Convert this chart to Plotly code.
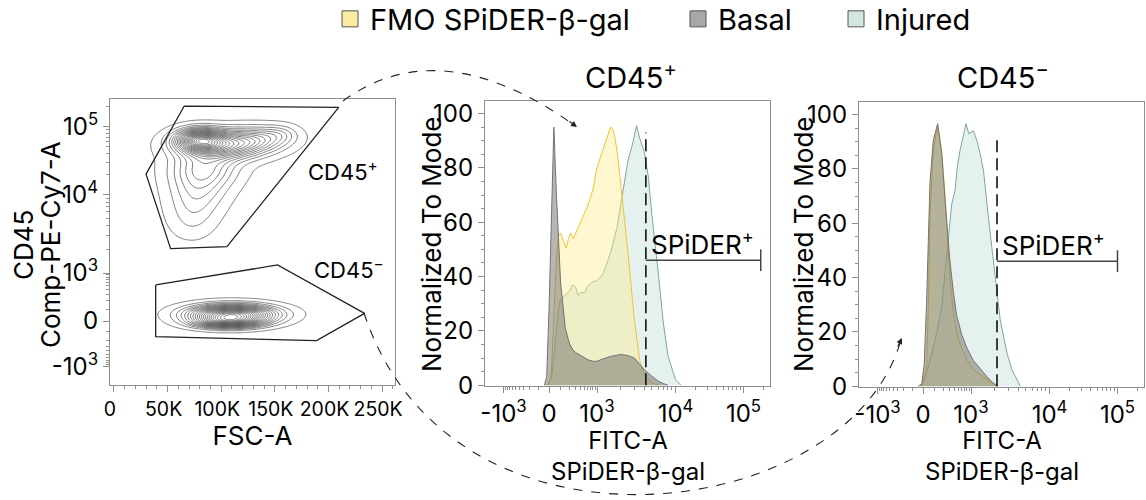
import numpy as np
import plotly.graph_objects as go

# ---------------- display scale (FlowJo-like biexponential) ----------------
SCALE_RAW = [-1e3, 0, 1e3, 1e4, 1e5, 1e6]
SCALE_POS = [18.5, 64, 112, 190.5, 258.5, 326]
COFACTOR = 150


def disp(v):
    v = np.asarray(v, dtype=float)
    return np.interp(np.arcsinh(v / COFACTOR),
                     np.arcsinh(np.array(SCALE_RAW) / COFACTOR), SCALE_POS)


LOG_TICK_VALS = [-1e3, 0, 1e3, 1e4, 1e5]
LOG_TICK_TEXT = ["-10<sup>3</sup>", "0", "10<sup>3</sup>", "10<sup>4</sup>", "10<sup>5</sup>"]
LOG_MINOR_VALS = ([-m * 100 for m in range(1, 10)] + [m * 100 for m in range(1, 10)]
                  + [m * 1000 for m in range(2, 10)] + [m * 10000 for m in range(2, 10)] + [2e5])

FSC_TICK_VALS = [0, 50000, 100000, 150000, 200000, 250000]
FSC_TICK_TEXT = ["0", "50K", "100K", "150K", "200K", "250K"]

# ---------------- histogram data: CD45+ ----------------
P_FMO_X = [-20, 0, 20, 40, 60, 80, 100, 130, 160, 190, 220, 260, 300, 400, 500, 600, 800,
           1000, 1200, 1350, 1500, 1600, 1700, 1850, 2000, 2250, 2500, 3000, 3500, 4000, 5000, 6000]
P_FMO_Y = [0, 0.5, 5, 25, 45, 55, 56, 53, 50.5, 54, 56, 54, 56, 60, 63, 66, 72,
           80, 87, 91, 95, 94, 91, 84, 75, 62, 48, 24, 9, 4, 0.8, 0]
P_BAS_X = [-40, -20, 0, 20, 40, 60, 80, 100, 150, 200, 250, 300, 400, 500, 600, 800, 1000,
           1200, 1500, 2000, 2500, 3000, 3500, 4000, 5000, 6000, 7000, 8000]
P_BAS_Y = [0, 3, 28, 62, 95, 72, 52, 38, 21, 15.5, 13, 12, 11, 10, 9.4, 8.8, 8.8,
           9.7, 10.6, 11.3, 10.9, 10, 7.6, 5.8, 3.3, 1.5, 0.6, 0]
P_INJ_X = [-10, 20, 40, 60, 80, 100, 150, 200, 250, 300, 350, 400, 500, 600, 800, 1000, 1200,
           1500, 1800, 2000, 2300, 2500, 2800, 3000, 3200, 3500, 3800, 4000, 4500, 5000, 6000,
           7000, 8000, 10000, 12000]
P_INJ_Y = [0, 3, 10, 20, 28, 31.5, 33, 34.5, 37, 36, 33, 34, 34, 36.5, 38, 38.5, 41,
           49, 58, 66, 76, 83, 88, 92.5, 95.5, 91, 88, 86, 77, 63, 42,
           23, 11, 2, 0]
P_GATE = 4200
P_GATE_END = 180000

# ---------------- histogram data: CD45- ----------------
N_FMO_X = [-10, 30, 45, 58, 88, 132, 179, 225, 260, 306, 372, 451, 597, 790, 1073, 1308, 1594, 1935, 2142]
N_FMO_Y = [0, 7, 32, 62, 87, 96, 87, 70, 54, 39, 27, 19.6, 14, 9.8, 6, 4.3, 2.4, 1, 0]
N_BAS_X = [-40, -10, 10, 30, 58, 88, 132, 179, 225, 260, 300, 370, 450, 600, 800, 1070, 1300, 1600, 1900, 2200]
N_BAS_Y = [0, 1, 8, 32, 75, 90.5, 96.6, 85.6, 68.5, 56, 47, 35, 26, 19, 14, 9.5, 6.5, 3.5, 1.3, 0]
N_INJ_X = [-10, 30, 73, 122, 179, 225, 260, 306, 338, 410, 468, 545, 656, 762, 883, 1073, 1187,
           1308, 1443, 1531, 1672, 1848, 2142, 2362, 2878, 3335, 4050, 4260]
N_INJ_Y = [0, 5, 12, 19.6, 29, 41.6, 51, 58.7, 67, 72, 80.7, 86.8, 91.7, 96.6, 92.9, 94, 90.5,
           85.6, 79.5, 73.3, 62, 51, 34.2, 24.4, 12.2, 6, 1.2, 0]
N_GATE = 2150
N_GATE_END = 100000

# ---------------- dot-plot gates (FSC-A, CD45) ----------------
GATE_POS_FSC = [65500, 209500, 105300, 52800, 29900]
GATE_POS_CD45 = [201000, 192000, 2170, 2050, 19900]
GATE_NEG_FSC = [38900, 152500, 233600, 188900, 38900]
GATE_NEG_CD45 = [516, 1268, 64, -206, -153]

# population components: FSC centre, CD45 centre, FSC spread, display spread, weight, group
POP_FSC = [80000, 100000, 133000, 155000, 84000, 79000, 75000, 72000, 110000, 106000]
POP_CD45 = [64000, 53000, 66000, 78000, 25000, 12900, 6900, 4100, 55, -10]
POP_SF = [14000, 25000, 20000, 11000, 20000, 18000, 16000, 14000, 25000, 20000]
POP_SD = [7, 9, 8, 6, 12, 13, 13, 12, 6, 4]
POP_W = [1.0, 0.8, 0.35, 0.12, 0.35, 0.2, 0.12, 0.06, 1.0, 0.5]
POP_GROUP = [0, 0, 0, 0, 0, 0, 0, 0, 1, 1]

SERIES = ["FMO SPiDER-β-gal", "Basal", "Injured"]
FILL = ["rgba(253,236,140,0.42)", "rgba(100,100,100,0.47)", "rgba(190,222,216,0.42)"]
LINE = ["rgb(244,196,48)", "rgb(115,115,115)", "rgb(125,168,158)"]
SWATCH = ["#fbeaa0", "#a8a8a8", "#d2e6e2"]

FONT = "Inter"
W, H = 1146, 500

fig = go.Figure()

# ---------------- contour density ----------------
gx = np.linspace(0, 262000, 264)
gy = np.linspace(0, 286, 287)
GX, GY = np.meshgrid(gx, gy)
dens = [np.zeros_like(GX), np.zeros_like(GX)]
for f, c, sf, sd, w, g in zip(POP_FSC, POP_CD45, POP_SF, POP_SD, POP_W, POP_GROUP):
    dens[g] += w * np.exp(-0.5 * (((GX - f) / sf) ** 2 + ((GY - disp(c)) / sd) ** 2))
Z = dens[0] / dens[0].max() + dens[1] / dens[1].max()

fig.add_trace(go.Contour(x=gx, y=gy, z=Z, xaxis="x", yaxis="y", showscale=False,
                         contours=dict(coloring="lines", start=0.02, end=0.98, size=0.045),
                         line=dict(color="#4a4a4a", width=0.7), colorscale=[[0, "#4a4a4a"], [1, "#4a4a4a"]],
                         hoverinfo="skip"))
for fx, cy in [(GATE_POS_FSC, GATE_POS_CD45), (GATE_NEG_FSC, GATE_NEG_CD45)]:
    fig.add_trace(go.Scatter(x=fx + fx[:1], y=disp(cy + cy[:1]), mode="lines", xaxis="x", yaxis="y",
                             line=dict(color="#222222", width=1.3), showlegend=False, hoverinfo="skip"))

# ---------------- histograms ----------------
panels = [
    ("x2", "y2", [(P_FMO_X, P_FMO_Y), (P_BAS_X, P_BAS_Y), (P_INJ_X, P_INJ_Y)], P_GATE, P_GATE_END, 93),
    ("x3", "y3", [(N_FMO_X, N_FMO_Y), (N_BAS_X, N_BAS_Y), (N_INJ_X, N_INJ_Y)], N_GATE, N_GATE_END, 92),
]
order = [2, 0, 1]
for xa, ya, data, gate, gend, gtop in panels:
    for i in order:
        xs, ys = data[i]
        fig.add_trace(go.Scatter(x=disp(xs), y=ys, mode="lines", fill="tozeroy", xaxis=xa, yaxis=ya,
                                 fillcolor=FILL[i], line=dict(color=LINE[i], width=1),
                                 name=SERIES[i], legendgroup=SERIES[i], showlegend=False))
    fig.add_trace(go.Scatter(x=disp([gate, gate]), y=[0, gtop], mode="lines", xaxis=xa, yaxis=ya,
                             line=dict(color="#111111", width=1.6, dash="12px,6px"), showlegend=False))
    fig.add_trace(go.Scatter(x=disp([gate, gend]), y=[46, 46], mode="lines", xaxis=xa, yaxis=ya,
                             line=dict(color="#444444", width=1.5), showlegend=False))
    fig.add_trace(go.Scatter(x=disp([gend, gend]), y=[42, 50], mode="lines", xaxis=xa, yaxis=ya,
                             line=dict(color="#444444", width=1.5), showlegend=False))
    fig.add_annotation(x=float(disp(gate)), y=52.5, xref=xa, yref=ya, text="SPiDER<sup>+</sup>",
                       showarrow=False, xanchor="left", yanchor="middle", xshift=3,
                       font=dict(family=FONT, size=26, color="black"))

# ---------------- legend entries ----------------
leg_names = ["legend", "legend2", "legend3"]
for i, ln in enumerate(leg_names):
    fig.add_trace(go.Scatter(x=[None], y=[None], mode="markers", xaxis="x2", yaxis="y2",
                             marker=dict(symbol="square", size=20, color=SWATCH[i],
                                         line=dict(color="#555555", width=1)),
                             name=SERIES[i], legendgroup=SERIES[i], legend=ln))

leg_x = [330, 678, 836]
leg_common = dict(orientation="h", yanchor="middle", y=1 - 19 / H, xanchor="left",
                  font=dict(family=FONT, size=29, color="black"), bgcolor="rgba(0,0,0,0)",
                  itemsizing="trace")
layout_legs = {}
for ln, lx in zip(leg_names, leg_x):
    layout_legs[ln] = dict(x=lx / W, **leg_common)

axis_common = dict(showline=True, mirror=True, linecolor="#8f8f8f", linewidth=1.2, ticks="outside",
                   ticklen=6, tickcolor="#8f8f8f", tickwidth=1, showgrid=False, zeroline=False,
                   tickfont=dict(family=FONT, size=24, color="black"), automargin=False,
                   tickangle=0)

log_minor = dict(tickmode="array", tickvals=list(disp(LOG_MINOR_VALS)), ticklen=3, ticks="outside",
                 tickcolor="#8f8f8f")


def log_axis(**kw):
    d = dict(axis_common)
    d.update(tickmode="array", tickvals=list(disp(LOG_TICK_VALS)), ticktext=LOG_TICK_TEXT,
             minor=log_minor)
    d.update(kw)
    return d


def px_x(a, b):
    return [a / W, b / W]


def px_y(top, bottom):
    return [1 - bottom / H, 1 - top / H]


fig.update_layout(
    width=W, height=H, margin=dict(l=0, r=0, t=0, b=0, autoexpand=False),
    paper_bgcolor="white", plot_bgcolor="white",
    font=dict(family=FONT, color="black"),
    xaxis=dict(axis_common, domain=px_x(110, 395), range=[-3700, 262000], tickmode="array",
               tickvals=FSC_TICK_VALS, ticktext=FSC_TICK_TEXT, ticklabelshift=-4,
               tickfont=dict(family=FONT, size=19.5, color="black"),
               minor=dict(dtick=10000, ticklen=3, ticks="outside", tickcolor="#8f8f8f"),
               title=dict(text="FSC-A", standoff=6, font=dict(family=FONT, size=26, color="black"))),
    yaxis=log_axis(domain=px_y(99, 385), range=[0, 286], anchor="x"),
    xaxis2=log_axis(domain=px_x(485, 770), range=[0, 285], anchor="y2"),
    yaxis2=dict(axis_common, domain=px_y(101, 386), range=[-0.3, 104.6], anchor="x2",
                tickvals=[0, 20, 40, 60, 80, 100],
                minor=dict(dtick=5, ticklen=3, ticks="outside", tickcolor="#8f8f8f")),
    xaxis3=log_axis(domain=px_x(859, 1144), range=[0, 285], anchor="y3"),
    yaxis3=dict(axis_common, domain=px_y(102, 387), range=[-0.3, 104.6], anchor="x3",
                tickvals=[0, 20, 40, 60, 80, 100],
                minor=dict(dtick=5, ticklen=3, ticks="outside", tickcolor="#8f8f8f")),
    **layout_legs,
)


def label(x, y, text, size, angle=0, anchor="center"):
    fig.add_annotation(x=x / W, y=1 - y / H, xref="paper", yref="paper", text=text, showarrow=False,
                       textangle=angle, xanchor=anchor, yanchor="middle",
                       font=dict(family=FONT, size=size, color="black"))


# axis titles placed to match the reference
label(23, 245, "CD45", 26, -90)
label(50, 245, "Comp-PE-Cy7-A", 26, -90)
label(431, 244, "Normalized To Mode", 26, -90)
label(803, 244, "Normalized To Mode", 26, -90)
for cx in (627.5, 1002):
    label(cx, 456, "FITC-A<br>SPiDER-β-gal", 24)

# gate labels in dot plot
label(306, 170, "CD45<sup>+</sup>", 22, anchor="left")
label(312, 268, "CD45<sup>−</sup>", 22, anchor="left")

# panel titles
label(631, 75, "CD45<sup>+</sup>", 29)
label(1003, 75, "CD45<sup>−</sup>", 29)


# connectors (decorative, paper coordinates)
def pth(points_px, kind):
    s = []
    for (x, y) in points_px:
        s.append(f"{x / W:.5f},{1 - y / H:.5f}")
    if kind == "Q":
        return f"M {s[0]} Q {s[1]} {s[2]}"
    return f"M {s[0]} C {s[1]} {s[2]} {s[3]}"


fig.add_shape(type="path", xref="paper", yref="paper",
              path=pth([(343, 101), (440, 30), (574, 125)], "Q"),
              line=dict(color="#222", width=1.1, dash="dash"))
fig.add_shape(type="path", xref="paper", yref="paper",
              path=pth([(364, 313), (450, 575), (845, 525), (900, 343)], "C"),
              line=dict(color="#222", width=1.1, dash="dash"))
for (tx, ty, ax, ay) in [(577, 127, -9, -6.5), (902, 338, -5, 10)]:
    fig.add_annotation(x=tx / W, y=1 - ty / H, xref="paper", yref="paper", text="", showarrow=True,
                       arrowhead=2, arrowsize=1, arrowwidth=1.2, arrowcolor="#222",
                       ax=ax, ay=ay, standoff=0)

fig.write_html("out.html")
